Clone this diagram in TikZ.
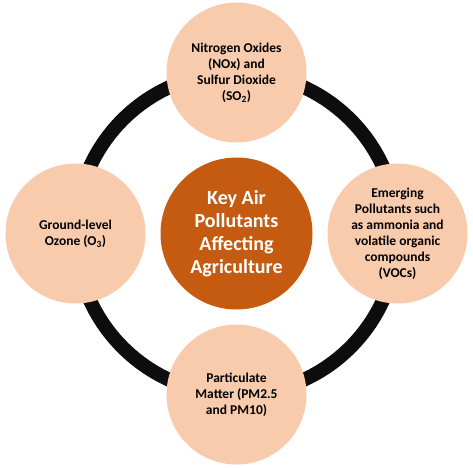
\documentclass[tikz,border=0pt]{standalone}
\usepackage{fontspec}
\setmainfont{Carlito}
\usetikzlibrary{positioning}
\pgfdeclarelayer{bg}
\pgfsetlayers{bg,main}
\definecolor{peach}{HTML}{F8CBAD}
\definecolor{rust}{HTML}{C55A11}
\definecolor{ringblack}{HTML}{0D0D0D}

\begin{document}
\begin{tikzpicture}[x=1pt,y=1pt,
        pollutant/.style={circle,fill=peach,minimum size=140pt,inner sep=0pt,align=center,
                font=\fontsize{13.5}{16}\selectfont\bfseries},
        keynode/.style={circle,fill=rust,text=white,minimum size=152pt,inner sep=0pt,align=center,
                font=\fontsize{20}{23}\selectfont\bfseries}]
                        \useasboundingbox (0,0) rectangle (473,467);
                        \node[keynode] (key) at (236.5,233.5) {Key Air\\Pollutants\\Affecting\\Agriculture};
                        \begin{scope}[on grid,node distance=161pt]
                                \node[pollutant, above=of key] (nox) {Nitrogen Oxides\\(NOx) and\\Sulfur Dioxide\\(SO\textsubscript{2})};
                                \node[pollutant, right=of key] (voc) {Emerging\\Pollutants such\\as ammonia and\\volatile organic\\compounds\\(VOCs)};
                                \node[pollutant, below=of key] (pm) {Particulate\\Matter (PM2.5\\and PM10)};
                                \node[pollutant, left=of key] (ozone) {Ground-level\\Ozone (O\textsubscript{3})};
                        \end{scope}
                        \begin{pgfonlayer}{bg}
                                \draw[ringblack,line width=14pt] (key) circle (161pt);
                        \end{pgfonlayer}
                \end{tikzpicture}
\end{document}
